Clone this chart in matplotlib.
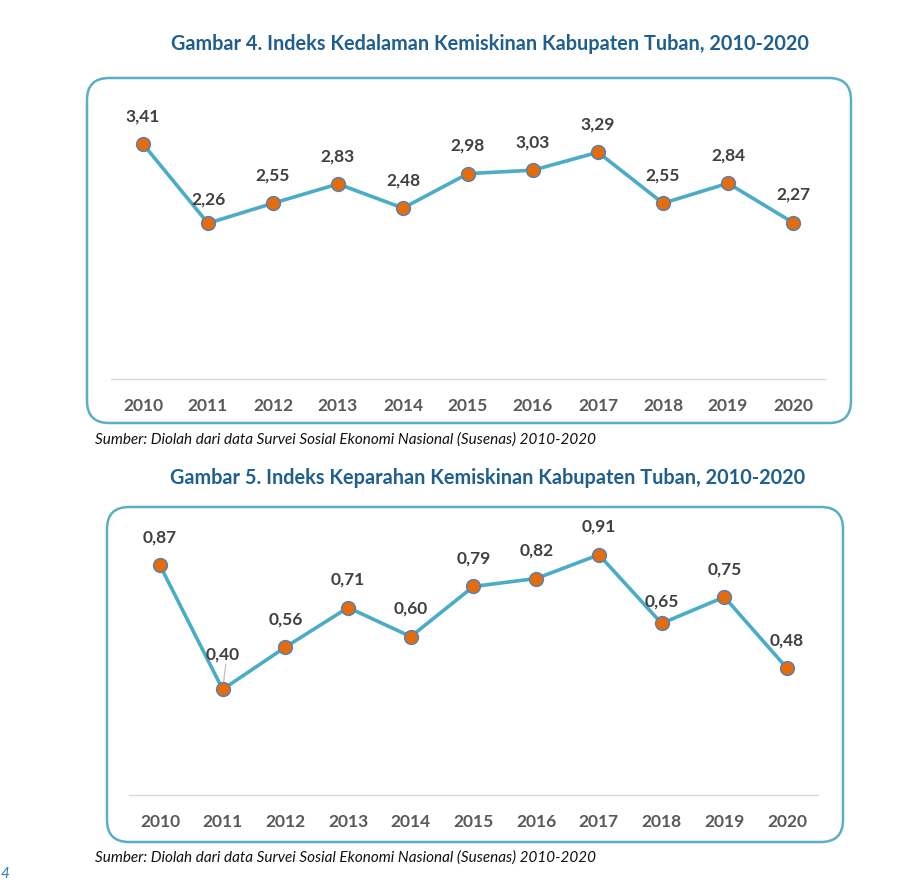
import matplotlib.pyplot as plt
from matplotlib.patches import FancyBboxPatch

# data
tahun = ["2010", "2011", "2012", "2013", "2014", "2015", "2016", "2017", "2018", "2019", "2020"]
kedalaman = [3.41, 2.26, 2.55, 2.83, 2.48, 2.98, 3.03, 3.29, 2.55, 2.84, 2.27]
keparahan = [0.87, 0.40, 0.56, 0.71, 0.60, 0.79, 0.82, 0.91, 0.65, 0.75, 0.48]

judul_atas = "Gambar 4. Indeks Kedalaman Kemiskinan Kabupaten Tuban, 2010-2020"
judul_bawah = "Gambar 5. Indeks Keparahan Kemiskinan Kabupaten Tuban, 2010-2020"
sumber = "Sumber: Diolah dari data Survei Sosial Ekonomi Nasional (Susenas) 2010-2020"

W, H = 914, 882
plt.rcParams['font.family'] = ['Lato', 'DejaVu Sans']
fig = plt.figure(figsize=(W / 100, H / 100), dpi=100)

# latar belakang dalam koordinat piksel
bg = fig.add_axes([0, 0, 1, 1])
bg.set_xlim(0, W)
bg.set_ylim(H, 0)
bg.axis("off")

def kotak(x0, y0, x1, y1):
    bg.add_patch(FancyBboxPatch((x0, y0), x1 - x0, y1 - y0,
                                boxstyle="round,pad=0,rounding_size=22",
                                fc="white", ec="#5AAFC6", lw=1.8))

kotak(87, 78, 851, 423)
kotak(107, 507, 843, 842)

bg.text(490, 44, judul_atas, ha="center", va="center", fontsize=14.3,
        fontweight="bold", color="#1F5F8F")
bg.text(488, 478, judul_bawah, ha="center", va="center", fontsize=14.3,
        fontweight="bold", color="#1F5F8F")
bg.text(95, 440, sumber, ha="left", va="center", fontsize=11,
        style="italic", color="#111111")
bg.text(95, 858, sumber, ha="left", va="center", fontsize=11,
        style="italic", color="#111111")
bg.text(1, 881, "4", ha="left", va="bottom", fontsize=11,
        style="italic", color="#2E7DAF")

def px_ax(left, right, top, bottom):
    return fig.add_axes([left / W, 1 - bottom / H, (right - left) / W, (bottom - top) / H])

def gambar(ax, nilai, ymax, offset):
    x = range(len(tahun))
    ax.plot(x, nilai, color="#4BACC6", lw=2.6, zorder=2)
    ax.plot(x, nilai, ls="none", marker="o", ms=10, mfc="#E46C0A",
            mec="#4F81BD", mew=1.0, zorder=3)
    for i, v in enumerate(nilai):
        dy = offset.get(i, 20)
        ax.annotate(f"{v:.2f}".replace(".", ","), (i, v), xytext=(0, dy),
                    textcoords="offset points", ha="center", va="center",
                    fontsize=12.5, fontweight="bold", color="#404040")
    ax.set_xlim(-0.5, len(tahun) - 0.5)
    ax.set_ylim(0, ymax)
    ax.set_xticks(list(x))
    ax.set_xticklabels(tahun, fontsize=12.5, fontweight="bold", color="#595959")
    ax.tick_params(axis="x", length=0, pad=14)
    ax.set_yticks([])
    for s in ["top", "left", "right"]:
        ax.spines[s].set_visible(False)
    ax.spines["bottom"].set_color("#D9D9D9")
    ax.spines["bottom"].set_linewidth(1.0)
    ax.patch.set_alpha(0)

ax1 = px_ax(110.5, 825.5, 124, 379)
gambar(ax1, kedalaman, 3.7, {1: 17})

ax2 = px_ax(128.6, 818.4, 531, 795)
gambar(ax2, keparahan, 1.0, {1: 25, 8: 16})
# garis penunjuk label 0,40
ax2.plot([1, 1.05], [keparahan[1], keparahan[1] + 0.095], color="#BFBFBF",
         lw=0.9, zorder=2.5)

fig.savefig("out.png", dpi=100)
